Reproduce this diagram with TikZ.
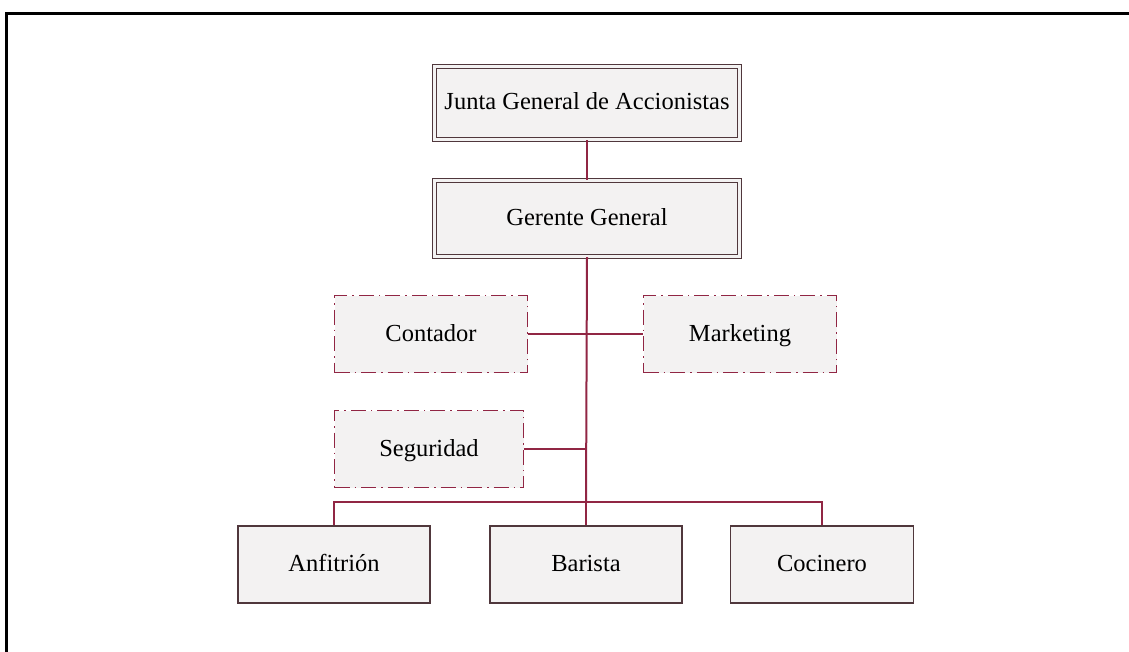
\documentclass[tikz,border=0pt]{standalone}
\usepackage{fontspec}
\setmainfont{Liberation Serif}
\definecolor{mar}{RGB}{145,38,68}
\definecolor{darkb}{RGB}{80,55,60}
\definecolor{boxfill}{RGB}{243,242,242}
\begin{document}
\begin{tikzpicture}[x=1pt,y=-1pt,
  base/.style={rectangle,inner sep=0pt,fill=boxfill,font=\fontsize{24.5}{28}\selectfont,text=black,text height=18pt,text depth=4pt,align=center},
  dblbox/.style={base,draw=darkb,line width=1.2pt,double=boxfill,double distance=2.2pt,minimum width=305pt,minimum height=73pt},
  dashbox/.style={base,draw=mar,line width=1.6pt,dash pattern=on 15pt off 5pt on 1.5pt off 5pt,minimum width=193pt,minimum height=77pt},
  plainbox/.style={base,draw=darkb,line width=1.3pt,minimum height=77pt},
  conn/.style={draw=mar,line width=2pt},
  frame/.style={draw=black,line width=3pt}]
\useasboundingbox (0,0) rectangle (1129,652);
\fill[white] (0,0) rectangle (1129,652);
\draw[frame] (6.5,700) -- (6.5,14) -- (1200,14);

\node[dblbox] (junta) at (587,103) {Junta General de Accionistas};
\node[dblbox,minimum height=76pt] (ger) at (587,218.5) {Gerente General};
\node[dashbox] (cont) at (431,334) {Contador};
\node[dashbox] (mkt) at (740,334) {Marketing};
\node[dashbox,minimum width=189pt] (seg) at (429,449) {Seguridad};
\node[plainbox,minimum width=192pt] (anf) at (334,564.5) {Anfitrión};
\node[plainbox,minimum width=192pt] (bar) at (586,564.5) {Barista};
\node[plainbox,minimum width=183pt] (coc) at (822,564.5) {Cocinero};
\coordinate (bus) at (586,502);

\draw[conn] (junta.south) -- (ger.south |- junta.south) -- (ger.north);
\draw[conn] (ger.south) -- (bus);
\draw[conn] (cont.east) -- (cont.east -| bus);
\draw[conn] (mkt.west) -- (mkt.west -| bus);
\draw[conn] (seg.east) -- (seg.east -| bus);
\draw[conn] (anf.north) -- (anf.north |- bus) -- (coc.north |- bus) -- (coc.north);
\draw[conn] (bus) -- (bar.north);
\end{tikzpicture}
\end{document}
